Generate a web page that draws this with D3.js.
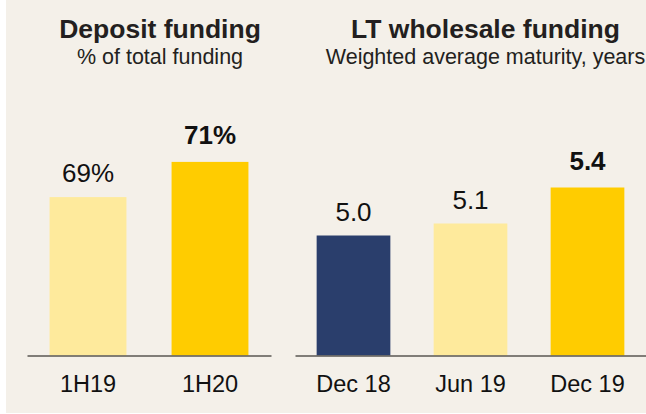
<!DOCTYPE html>
<html>
<head>
<meta charset="utf-8">
<script src="https://cdn.jsdelivr.net/npm/d3@7"></script>
<style>
  html, body { margin: 0; padding: 0; background: #ffffff; }
  svg { display: block; font-family: "Liberation Sans", Arial, sans-serif; }
</style>
</head>
<body>
<svg id="chart" width="646" height="414"></svg>
<script>
// ---- Data ----
const depositCategories = ["1H19", "1H20"];
const depositValues = [69, 71];
const depositLabels = ["69%", "71%"];
const depositHighlight = [false, true];

const wholesaleCategories = ["Dec 18", "Jun 19", "Dec 19"];
const wholesaleValues = [5.0, 5.1, 5.4];
const wholesaleLabels = ["5.0", "5.1", "5.4"];
const wholesaleHighlight = [false, false, true];

// ---- Styles ----
const BG = "#f4f0e9";
const C_LIGHT = "#feea9c";
const C_YELLOW = "#ffcc00";
const C_NAVY = "#2a3e6c";
const depositColors = [C_LIGHT, C_YELLOW];
const wholesaleColors = [C_NAVY, C_LIGHT, C_YELLOW];

const svg = d3.select("#chart");
svg.append("rect").attr("x", 6).attr("y", 0).attr("width", 640).attr("height", 413).attr("fill", BG);

const baseY = 355.5;

function panel(opts) {
  const g = svg.append("g");
  const x = d3.scaleBand().domain(opts.categories).range(opts.xRange)
    .paddingInner(0.37).paddingOuter(0.185);
  const y = d3.scaleLinear().domain(opts.yDomain).range([baseY, baseY - opts.pxPerUnit * (opts.yDomain[1] - opts.yDomain[0])]);

  // titles
  g.append("text").attr("x", opts.titleX).attr("y", 38).attr("text-anchor", "middle")
    .attr("font-size", 26.5).attr("font-weight", "bold").attr("fill", "#231f20").text(opts.title);
  g.append("text").attr("x", opts.titleX).attr("y", 64).attr("text-anchor", "middle")
    .attr("font-size", 21.5).attr("fill", "#231f20").text(opts.subtitle);

  // bars
  g.selectAll("rect.bar").data(opts.values).enter().append("rect")
    .attr("class", "bar")
    .attr("x", (d, i) => x(opts.categories[i]))
    .attr("width", x.bandwidth())
    .attr("y", d => y(d))
    .attr("height", d => baseY - y(d))
    .attr("fill", (d, i) => opts.colors[i]);

  // value labels
  g.selectAll("text.val").data(opts.values).enter().append("text")
    .attr("class", "val")
    .attr("x", (d, i) => x(opts.categories[i]) + x.bandwidth() / 2)
    .attr("y", (d, i) => y(d) - (opts.highlight[i] ? 18 : 15))
    .attr("text-anchor", "middle")
    .attr("font-size", 26)
    .attr("font-weight", (d, i) => opts.highlight[i] ? "bold" : "normal")
    .attr("fill", "#111")
    .text((d, i) => opts.labels[i]);

  // axis
  const axis = g.append("g").attr("transform", `translate(0,${baseY})`)
    .call(d3.axisBottom(x).tickSize(0).tickSizeOuter(0).tickPadding(20));
  axis.select(".domain").attr("stroke", "#5a5752").attr("stroke-width", 1.6);
  axis.selectAll("text").attr("font-size", 23.5).attr("fill", "#111")
    .attr("font-family", "\"Liberation Sans\", Arial, sans-serif");
}

panel({
  categories: depositCategories, values: depositValues, labels: depositLabels,
  highlight: depositHighlight, colors: depositColors,
  xRange: [27, 271], yDomain: [60, 72], pxPerUnit: 17.6,
  title: "Deposit funding", subtitle: "% of total funding", titleX: 160
});

panel({
  categories: wholesaleCategories, values: wholesaleValues, labels: wholesaleLabels,
  highlight: wholesaleHighlight, colors: wholesaleColors,
  xRange: [295, 646], yDomain: [4, 5.5], pxPerUnit: 120,
  title: "LT wholesale funding", subtitle: "Weighted average maturity, years", titleX: 485.5
});
</script>
</body>
</html>
